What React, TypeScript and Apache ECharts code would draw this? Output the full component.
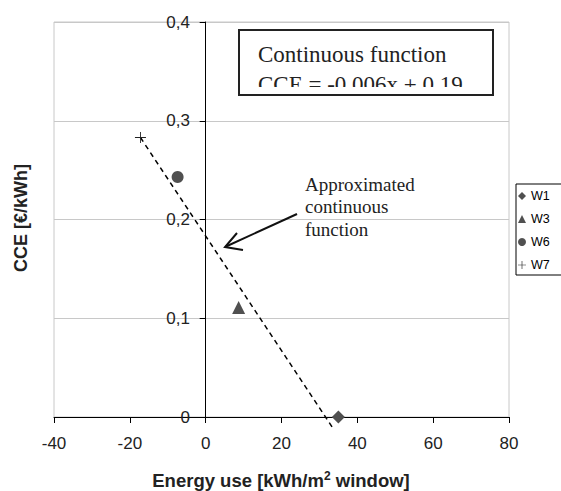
import React, { useEffect, useRef } from "react";
import * as echarts from "echarts";

const seriesNames = ["W1", "W3", "W6", "W7"];
const seriesX = [35, 8.7, -7.4, -17.2];
const seriesY = [0, 0.111, 0.243, 0.283];
const fitX = [-17.2, 33.5];
const fitY = [0.283, -0.011];
const xTicks = { min: -40, max: 80, interval: 20 };
const yTicks = { min: 0, max: 0.4, interval: 0.1 };

const PLUS = "path://M4.6,0h0.8v4.6h4.6v0.8h-4.6v4.6h-0.8v-4.6h-4.6v-0.8h4.6z";
const symbols = ["diamond", "triangle", "circle", PLUS];
const sizes = [13, 13, 12, 11];
const colors = ["#505050", "#505050", "#505050", "#222222"];

export default function App() {
  const ref = useRef<HTMLDivElement>(null);
  useEffect(() => {
    const chart = echarts.init(ref.current!, null, { renderer: "svg" });
    const scatter = seriesNames.map((n, i) => ({
      type: "scatter",
      name: n,
      data: [[seriesX[i], seriesY[i]]],
      symbol: symbols[i],
      symbolSize: sizes[i],
      itemStyle: { color: colors[i], opacity: 1 },
      z: 5,
    }));
    const sans = "'Liberation Sans', Arial, sans-serif";
    const serif = "'Liberation Serif', 'Times New Roman', serif";
    chart.setOption({
      animation: false,
      backgroundColor: "#ffffff",
      grid: {
        left: 54,
        right: 52,
        top: 22,
        bottom: 74,
        show: true,
        borderColor: "#c8c8c8",
        borderWidth: 1,
        backgroundColor: "transparent",
      },
      xAxis: {
        type: "value",
        min: xTicks.min,
        max: xTicks.max,
        interval: xTicks.interval,
        axisLine: { show: true, onZero: true, lineStyle: { color: "#000", width: 1 } },
        axisTick: { show: true, inside: false, length: 6, lineStyle: { color: "#000" } },
        axisLabel: { margin: 18, fontSize: 17, color: "#222", fontFamily: sans },
        splitLine: { show: false },
      },
      yAxis: {
        type: "value",
        min: yTicks.min,
        max: yTicks.max,
        interval: yTicks.interval,
        axisLine: { show: true, onZero: true, lineStyle: { color: "#000", width: 1 } },
        axisTick: { show: true, inside: false, length: 6, lineStyle: { color: "#000" } },
        axisLabel: {
          margin: -136,
          fontSize: 17,
          color: "#222",
          fontFamily: sans,
          formatter: (v: number) => String(Number(v.toFixed(1))).replace(".", ","),
        },
        splitLine: { show: true, lineStyle: { color: "#c8c8c8", width: 1 } },
      },
      legend: {
        data: seriesNames,
        orient: "vertical",
        left: 516,
        top: 184,
        itemWidth: 8,
        itemHeight: 8,
        itemGap: 9,
        itemTextGap: 4,
        padding: [5, 24, 3, 2],
        borderColor: "#000",
        borderWidth: 1,
        backgroundColor: "#fff",
        textStyle: { fontSize: 12.5, color: "#000", fontFamily: sans, lineHeight: 14 },
      },
      series: [
        ...scatter,
        {
          type: "line",
          data: fitX.map((x, i) => [x, fitY[i]]),
          symbol: "none",
          clip: false,
          lineStyle: { color: "#000", width: 1.5, type: [5, 4] },
          z: 4,
          silent: true,
        },
      ],
      graphic: [
        {
          type: "rect",
          z: 10,
          shape: { x: 239, y: 30, width: 254, height: 65 },
          style: { fill: "#fff", stroke: "none" },
        },
        {
          type: "text",
          z: 11,
          x: 258,
          y: 54,
          style: {
            text: "Continuous function",
            font: `23px ${serif}`,
            fill: "#222",
            verticalAlign: "middle",
          },
        },
        {
          type: "text",
          z: 11,
          x: 258,
          y: 84,
          style: {
            text: "CCE = -0.006x + 0.19",
            font: `23px ${serif}`,
            fill: "#222",
            verticalAlign: "middle",
          },
        },
        {
          type: "rect",
          z: 12,
          shape: { x: 240, y: 87, width: 252, height: 7 },
          style: { fill: "#fff", stroke: "none" },
        },
        {
          type: "rect",
          z: 13,
          shape: { x: 239, y: 30, width: 254, height: 65 },
          style: { fill: "none", stroke: "#222", lineWidth: 2 },
        },
        {
          type: "text",
          z: 11,
          x: 305,
          y: 184,
          style: { text: "Approximated", font: `19px ${serif}`, fill: "#222", verticalAlign: "middle" },
        },
        {
          type: "text",
          z: 11,
          x: 305,
          y: 206,
          style: { text: "continuous", font: `19px ${serif}`, fill: "#222", verticalAlign: "middle" },
        },
        {
          type: "text",
          z: 11,
          x: 305,
          y: 229,
          style: { text: "function", font: `19px ${serif}`, fill: "#222", verticalAlign: "middle" },
        },
        {
          type: "line",
          z: 11,
          shape: { x1: 297, y1: 214, x2: 226, y2: 246.5 },
          style: { stroke: "#111", lineWidth: 2 },
        },
        {
          type: "polyline",
          z: 11,
          shape: { points: [[237, 233], [225, 247], [243, 250]] },
          style: { stroke: "#111", lineWidth: 2, fill: "none" },
        },
        {
          type: "text",
          z: 11,
          x: 281,
          y: 480,
          style: {
            text: "{a|Energy use [kWh/m}{s|2}{a| window]}",
            align: "center",
            verticalAlign: "middle",
            rich: {
              a: { fontSize: 18.5, fontWeight: "bold", fontFamily: sans, fill: "#222", lineHeight: 21 },
              s: { fontSize: 12, fontWeight: "bold", fontFamily: sans, fill: "#222", verticalAlign: "top", lineHeight: 21 },
            },
          },
        },
        {
          type: "text",
          z: 11,
          x: 21,
          y: 218,
          rotation: Math.PI / 2,
          style: {
            text: "CCE [€/kWh]",
            font: `bold 18px ${sans}`,
            fill: "#222",
            align: "center",
            verticalAlign: "middle",
          },
        },
      ],
    });
    return () => chart.dispose();
  }, []);
  return <div ref={ref} style={{ width: 561, height: 491, position: "absolute", left: 0, top: 0 }} />;
}
